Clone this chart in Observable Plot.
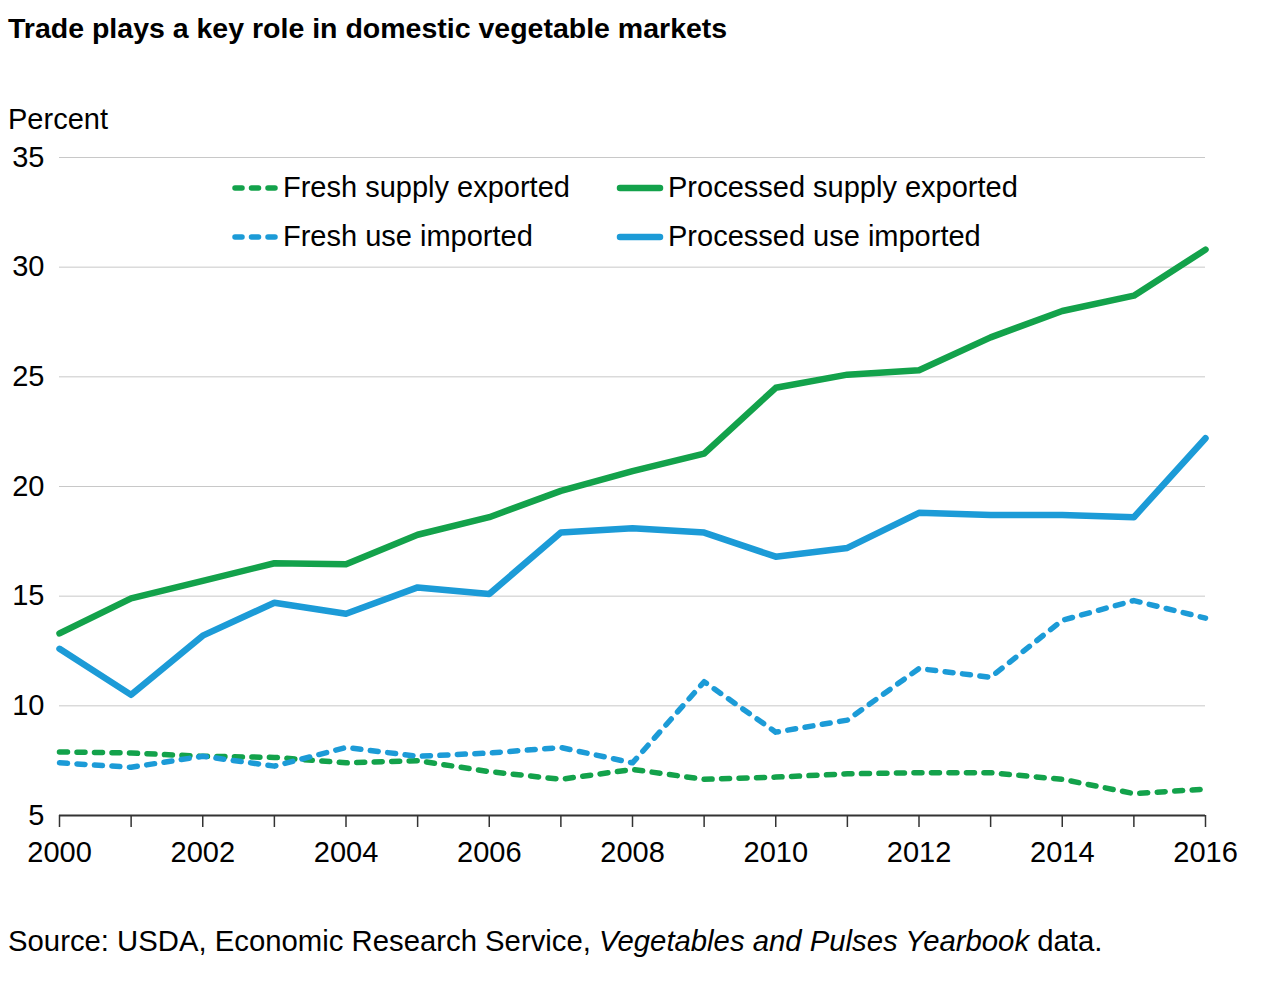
<!DOCTYPE html>
<html>
<head>
<meta charset="utf-8">
<script src="https://cdn.jsdelivr.net/npm/d3@7"></script>
<script src="https://cdn.jsdelivr.net/npm/@observablehq/plot@0.6"></script>
<style>
  html, body { margin: 0; padding: 0; background: #fff; font-family: "Liberation Sans", Arial, Helvetica, sans-serif; }
  #wrap { position: relative; width: 1269px; height: 981px; overflow: hidden; }
  #title { position: absolute; left: 8px; top: 12px; font-size: 28.5px; font-weight: bold; color: #000; z-index: 2; white-space: nowrap; }
  #percent { position: absolute; left: 8px; top: 103px; font-size: 29px; color: #000; z-index: 2; }
  #chart { position: absolute; left: 0; top: 0; width: 1269px; height: 880px; }
  .leg { position: absolute; display: flex; align-items: center; font-size: 29px; color: #000; white-space: nowrap; z-index: 2; }
  .leg svg { margin-right: 4px; }
  #source { position: absolute; left: 8px; top: 924px; font-size: 29.3px; color: #000; white-space: nowrap; z-index: 2; }
</style>
</head>
<body>
<div id="wrap">
  <div id="chart"></div>
  <div id="title">Trade plays a key role in domestic vegetable markets</div>
  <div id="percent">Percent</div>
  <div id="legend"></div>
  <div id="source">Source: USDA, Economic Research Service, <i>Vegetables and Pulses Yearbook</i> data.</div>
</div>
<script>
const years = [2000,2001,2002,2003,2004,2005,2006,2007,2008,2009,2010,2011,2012,2013,2014,2015,2016];
const freshSupplyExported   = [7.9,7.85,7.7,7.65,7.4,7.5,7.0,6.65,7.1,6.65,6.75,6.9,6.95,6.95,6.65,6.0,6.2];
const processedSupplyExported = [13.3,14.9,15.7,16.5,16.45,17.8,18.6,19.8,20.7,21.5,24.5,25.1,25.3,26.8,28.0,28.7,30.8];
const freshUseImported      = [7.4,7.2,7.7,7.25,8.1,7.7,7.85,8.1,7.4,11.1,8.8,9.35,11.7,11.3,13.9,14.8,14.0];
const processedUseImported  = [12.6,10.5,13.2,14.7,14.2,15.4,15.1,17.9,18.1,17.9,16.8,17.2,18.8,18.7,18.7,18.6,22.2];
const seriesNames = ["Fresh supply exported","Processed supply exported","Fresh use imported","Processed use imported"];
const yTicks = [5,10,15,20,25,30,35];
const xLabelYears = [2000,2002,2004,2006,2008,2010,2012,2014,2016];

const GREEN = "#13a24b", BLUE = "#1c9bd7";
const styles = {
  "Fresh supply exported": {color: GREEN, dash: "8,9.5", width: 5.5},
  "Processed supply exported": {color: GREEN, dash: null, width: 6.5},
  "Fresh use imported": {color: BLUE, dash: "8,9.5", width: 5.5},
  "Processed use imported": {color: BLUE, dash: null, width: 6.5}
};
const valuesBySeries = {
  "Fresh supply exported": freshSupplyExported,
  "Processed supply exported": processedSupplyExported,
  "Fresh use imported": freshUseImported,
  "Processed use imported": processedUseImported
};
const rows = (name) => years.map((y, i) => ({year: y, value: valuesBySeries[name][i], series: name}));

try {
const lineMarks = ["Fresh supply exported","Fresh use imported","Processed use imported","Processed supply exported"].map(name => {
  const opts = {x: "year", y: "value", stroke: styles[name].color, strokeWidth: styles[name].width,
    strokeLinecap: "round", strokeLinejoin: "round"};
  if (styles[name].dash) opts.strokeDasharray = styles[name].dash;
  return Plot.line(rows(name), opts);
});

const chart = Plot.plot({
  width: 1269,
  height: 880,
  marginTop: 157,
  marginBottom: 65,
  marginLeft: 59,
  marginRight: 64,
  style: {fontFamily: "'Liberation Sans', Arial, Helvetica, sans-serif", fontSize: "29px", color: "#000", background: "white"},
  x: {domain: [2000, 2016]},
  y: {domain: [5, 35]},
  marks: [
    Plot.gridY(yTicks.filter(d => d > 5), {stroke: "#c8c8c8", strokeOpacity: 1, strokeWidth: 1}),
    Plot.axisY(yTicks, {tickSize: 0, tickPadding: 15, label: null, fontSize: 29}),
    Plot.ruleY([5], {stroke: "#333", strokeWidth: 2}),
    Plot.axisX(years, {tickSize: 12, tickPadding: 14, stroke: "#333", strokeWidth: 1.5, label: null, fontSize: 29,
      tickFormat: d => xLabelYears.includes(d) ? String(d) : ""}),
    ...lineMarks
  ]
});
document.getElementById("chart").appendChild(chart);
} catch (e) {
  document.getElementById("chart").textContent = "ERR " + e.message;
}

// Legend
const legendPos = [
  {name: "Fresh supply exported", left: 231, top: 171},
  {name: "Processed supply exported", left: 616, top: 171},
  {name: "Fresh use imported", left: 231, top: 220},
  {name: "Processed use imported", left: 616, top: 220}
];
const leg = document.getElementById("legend");
for (const p of legendPos) {
  const s = styles[p.name];
  const div = document.createElement("div");
  div.className = "leg";
  div.style.left = p.left + "px";
  div.style.top = p.top + "px";
  const ns = "http://www.w3.org/2000/svg";
  const svg = document.createElementNS(ns, "svg");
  svg.setAttribute("width", 48); svg.setAttribute("height", 12);
  const ln = document.createElementNS(ns, "line");
  ln.setAttribute("x1", 4); ln.setAttribute("x2", 44); ln.setAttribute("y1", 6); ln.setAttribute("y2", 6);
  ln.setAttribute("stroke", s.color); ln.setAttribute("stroke-width", s.width);
  ln.setAttribute("stroke-linecap", "round");
  if (s.dash) ln.setAttribute("stroke-dasharray", "7,9.5");
  svg.appendChild(ln);
  div.appendChild(svg);
  const t = document.createElement("span");
  t.textContent = p.name;
  div.appendChild(t);
  leg.appendChild(div);
}
</script>
</body>
</html>
